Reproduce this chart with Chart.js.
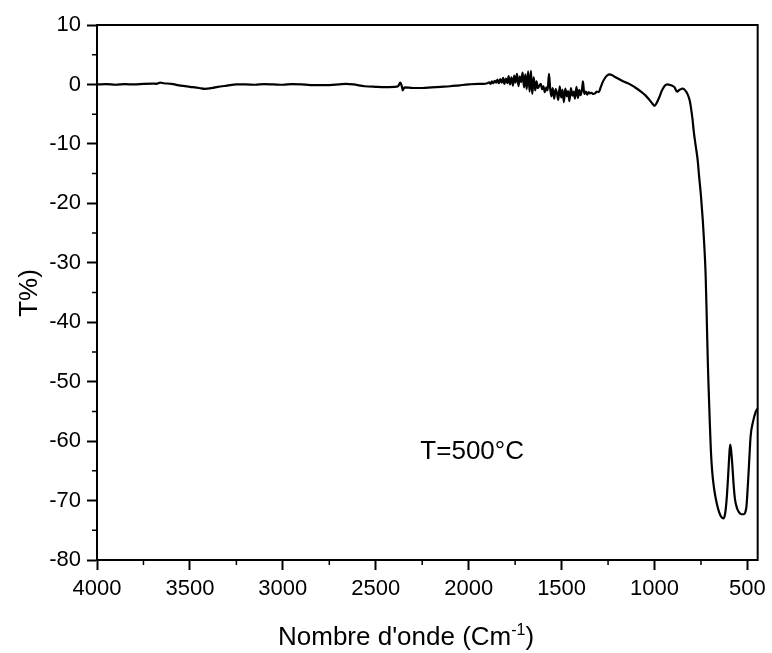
<!DOCTYPE html>
<html><head><meta charset="utf-8">
<script src="https://cdn.jsdelivr.net/npm/chart.js@4.4.1/dist/chart.umd.min.js"></script>
<style>html,body{margin:0;padding:0;background:#fff}#wrap{width:772px;height:653px}</style>
</head><body><div id="wrap"><canvas id="c" width="772" height="653"></canvas></div>
<script>
const wavenumbers = [
4000,3950,3900,3850,3800,3750,3700,3680,3660,3640,3600,3550,3500,3450,3420,3380,3350,3300,3250,3200,
3150,3100,3050,3000,2950,2900,2850,2800,2750,2700,2660,2620,2560,2500,2450,2400,2380,2368,2360,2355,
2345,2300,2250,2200,2150,2100,2050,2000,1950,1920,
1900,1890,1882,1875,1868,1860,1852,1845,1838,1830,1822,1815,1808,1800,1792,1785,1778,1770,1762,1755,
1748,1740,1732,1725,1718,1710,1702,1695,1688,1680,1672,1665,1658,1650,1642,1635,1628,1620,1612,1605,
1598,1590,1582,1575,1568,1562,1555,1548,1540,1532,1525,1518,1510,1502,1495,1488,1480,1472,1465,1458,
1450,1442,1435,1428,1420,1412,1405,1398,1390,1385,1378,1370,1362,1355,1348,1340,1330,1320,1310,1300,
1290,1280,1268,1255,1242,1230,1215,1197,1180,1160,1143,1120,1100,1073,1050,1030,1010,1000,990,975,
960,945,929,915,900,893,879,865,848,835,821,810,804,795,790,780,768,760,750,740,
732,725,720,713,709,703,697,690,679,665,652,640,629,622,617,610,604,598,593,588,
581,574,567,556,545,532,519,510,505,498,492,483,469,457,445
];
const transmittance = [
0.0,0.05,-0.05,0.05,0.0,0.1,0.15,0.1,0.3,0.2,0.1,-0.2,-0.4,-0.6,-0.75,-0.6,-0.4,-0.2,0.0,0.0,
-0.05,0.05,0.0,-0.05,0.05,0.0,-0.1,-0.1,-0.1,0.0,0.1,0.0,-0.3,-0.4,-0.45,-0.4,-0.3,0.3,-0.3,-1.0,
-0.5,-0.6,-0.6,-0.5,-0.4,-0.3,-0.15,0.0,0.1,0.1,
0.2,0.35,0.1,0.5,0.2,0.6,0.3,0.8,0.2,0.9,0.3,1.1,0.1,1.0,0.2,1.4,0.0,1.2,-0.2,1.5,
0.3,1.8,-0.3,1.3,0.4,2.0,-0.5,1.7,-0.8,2.2,-1.2,2.3,-1.6,1.2,-1.0,0.5,-0.6,-0.2,0.1,-0.8,
-0.3,-1.3,-0.5,-1.0,1.8,-0.5,-2.0,-0.6,-2.4,-0.8,-1.5,-2.6,-0.3,-2.2,-0.9,-3.0,-0.7,-2.0,-1.1,-2.8,
-0.6,-1.9,-1.2,-2.4,-0.4,-2.3,-0.9,-1.8,-0.8,0.5,-1.6,-1.2,-1.7,-1.3,-1.5,-1.4,-1.6,-1.5,-1.2,-1.3,
-0.5,0.3,1.0,1.5,1.7,1.6,1.3,1.0,0.7,0.4,0.2,-0.2,-0.6,-1.2,-1.8,-2.5,-3.3,-3.6,-3.2,-2.2,
-1.0,-0.2,0.0,-0.1,-0.3,-0.45,-1.2,-0.9,-0.7,-1.0,-1.7,-2.8,-3.9,-6.0,-7.6,-10.0,-12.7,-15.5,-18.8,-23.0,
-27.2,-32.0,-38.0,-47.0,-51.0,-56.5,-61.4,-65.0,-68.1,-70.5,-72.0,-72.8,-73.0,-72.5,-71.5,-69.0,-65.9,-62.5,-60.6,-61.5,
-64.2,-67.5,-69.8,-71.3,-72.0,-72.3,-72.3,-71.8,-70.9,-67.5,-64.2,-59.2,-56.6,-55.2,-54.5
];
const xTickValues = [4000,3500,3000,2500,2000,1500,1000,500];
const xMinorTicks = [3750,3250,2750,2250,1750,1250,750];
const yTickValues = [10,0,-10,-20,-30,-40,-50,-60,-70,-80];
const yMinorTicks = [5,-5,-15,-25,-35,-45,-55,-65,-75];
const xRange = [445, 4000];
const yRange = [-80, 10];
const yTitle = "T%)";
const xTitleMain = "Nombre d'onde (Cm";
const xTitleSup = "-1";
const xTitleEnd = ")";
const annotationText = "T=500°C";
const annotationPos = [2260, -63];

const FONT = "'Liberation Sans', Arial, sans-serif";
const points = wavenumbers.map((w, i) => ({x: w, y: transmittance[i]}));

const framePlugin = {
  id: 'frame',
  afterDraw(chart) {
    const {ctx, chartArea: a, scales: {x, y}} = chart;
    ctx.save();
    ctx.strokeStyle = '#000';
    ctx.lineWidth = 2;
    ctx.strokeRect(a.left, a.top, a.right - a.left, a.bottom - a.top);
    ctx.lineWidth = 1.5;
    ctx.beginPath();
    xMinorTicks.forEach(v => { const px = x.getPixelForValue(v); ctx.moveTo(px, a.bottom); ctx.lineTo(px, a.bottom + 5); });
    yMinorTicks.forEach(v => { const py = y.getPixelForValue(v); ctx.moveTo(a.left, py); ctx.lineTo(a.left - 5, py); });
    ctx.stroke();
    ctx.fillStyle = '#000';
    ctx.font = '26px ' + FONT;
    ctx.textAlign = 'left';
    ctx.textBaseline = 'alphabetic';
    ctx.fillText(annotationText, x.getPixelForValue(annotationPos[0]), y.getPixelForValue(annotationPos[1]));
    let tx = 278, ty = 645;
    ctx.font = '26px ' + FONT;
    ctx.fillText(xTitleMain, tx, ty);
    tx += ctx.measureText(xTitleMain).width;
    ctx.font = '16px ' + FONT;
    ctx.fillText(xTitleSup, tx, ty - 10);
    tx += ctx.measureText(xTitleSup).width;
    ctx.font = '26px ' + FONT;
    ctx.fillText(xTitleEnd, tx, ty);
    ctx.translate(37, 293);
    ctx.rotate(-Math.PI / 2);
    ctx.textAlign = 'center';
    ctx.fillText(yTitle, 0, 0);
    ctx.restore();
  }
};

new Chart(document.getElementById('c'), {
  type: 'line',
  data: { datasets: [{
    data: points,
    borderColor: '#000',
    borderWidth: 2.2,
    pointRadius: 0,
    fill: false,
    tension: 0,
    cubicInterpolationMode: 'monotone',
    borderJoinStyle: 'round'
  }]},
  options: {
    responsive: false,
    animation: false,
    devicePixelRatio: 1,
    parsing: false,
    layout: { padding: { left: 0, right: 13, top: 25, bottom: 0 } },
    plugins: { legend: { display: false }, tooltip: { enabled: false } },
    scales: {
      x: {
        type: 'linear', reverse: true, min: xRange[0], max: xRange[1],
        afterBuildTicks: s => { s.ticks = xTickValues.map(v => ({value: v})); },
        afterFit: s => { s.height = 93; },
        grid: { drawOnChartArea: false, drawTicks: true, tickLength: 10, tickWidth: 2, tickColor: '#000' },
        border: { display: true, color: '#000', width: 2 },
        ticks: { color: '#000', font: { family: FONT, size: 22 }, padding: 6, maxRotation: 0, autoSkip: false,
                 callback: v => String(v) }
      },
      y: {
        type: 'linear', min: yRange[0], max: yRange[1],
        afterBuildTicks: s => { s.ticks = yTickValues.map(v => ({value: v})); },
        afterFit: s => { s.width = 97; },
        grid: { drawOnChartArea: false, drawTicks: true, tickLength: 10, tickWidth: 2, tickColor: '#000' },
        border: { display: true, color: '#000', width: 2 },
        ticks: { color: '#000', font: { family: FONT, size: 22 }, padding: 6, autoSkip: false,
                 callback: v => String(v) }
      }
    }
  },
  plugins: [framePlugin]
});
</script></body></html>
